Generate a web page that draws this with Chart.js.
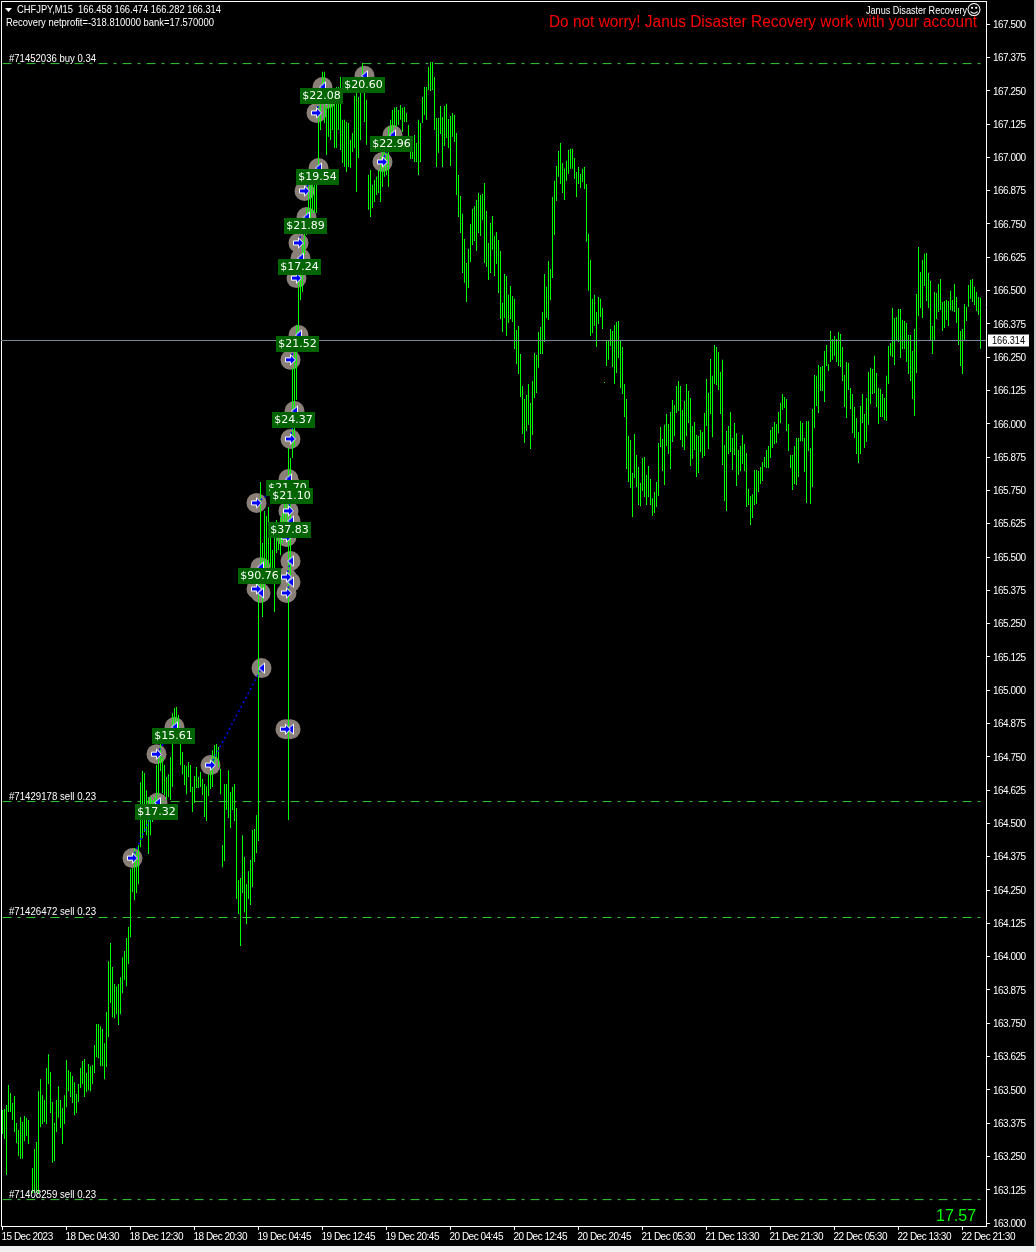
<!DOCTYPE html>
<html>
<head>
<meta charset="utf-8">
<title>CHFJPY,M15</title>
<script src="https://cdn.jsdelivr.net/npm/chart.js@4"></script>
<style>
  html, body { margin: 0; padding: 0; background: #000; overflow: hidden; }
  canvas { display: block; }
</style>
</head>
<body>
<canvas id="priceChart" width="1036" height="1252"></canvas>
<script>
// M15 bar highs, ten bars per row (null = bar too small to see)
const barHighs = [
  163.424,163.428,163.443,163.518,163.488,163.451,163.477,163.376,163.349,163.398,
  163.379,163.402,163.395,163.387,null,163.207,163.278,163.304,163.495,163.540,
  163.480,163.462,163.582,163.634,163.567,163.454,163.376,163.462,163.514,163.462,
  163.432,163.480,163.612,163.574,163.567,163.552,163.529,163.484,163.522,163.582,
  163.608,163.616,163.563,163.597,163.589,163.593,163.668,163.747,163.747,163.739,
  163.728,163.675,163.792,163.983,164.051,163.961,163.897,163.889,163.897,163.923,
  163.998,164.021,164.070,164.111,164.329,164.333,164.408,164.393,164.419,164.655,
  164.697,164.689,164.625,164.599,164.599,164.588,164.599,164.719,164.745,164.802,
  164.749,164.719,164.674,164.685,164.749,164.914,164.933,164.937,164.907,164.802,
  164.768,164.719,164.715,164.730,164.719,164.637,164.678,164.712,164.674,164.693,
  164.667,164.648,164.640,164.685,164.742,164.775,164.794,164.798,164.787,164.704,
  164.419,164.648,164.648,164.700,164.618,164.637,164.648,164.558,164.287,164.295,
  164.456,164.374,164.272,164.321,164.363,164.475,164.479,164.531,165.440,165.782,
  165.553,165.673,165.654,165.688,165.575,165.526,165.613,165.639,165.628,165.650,
  165.665,165.714,165.778,165.909,165.872,166.210,166.277,166.371,166.607,166.634,
  166.690,166.720,166.810,166.896,166.896,166.896,166.896,166.896,167.197,167.253,
  167.321,167.321,167.189,167.204,167.216,167.216,167.204,167.264,167.264,167.302,
  167.141,167.141,167.133,167.129,167.065,167.092,167.231,167.253,167.227,167.253,
  167.354,167.253,167.216,166.934,166.953,166.896,166.915,166.927,166.953,167.002,
  167.028,167.028,167.017,167.114,167.141,167.178,167.186,167.189,167.178,167.197,
  167.186,167.189,167.167,167.122,167.028,167.028,167.084,167.054,167.141,167.129,
  167.227,167.264,167.264,167.339,167.358,167.358,167.302,167.148,167.148,167.193,
  167.152,167.193,167.201,167.144,167.155,167.167,167.159,167.092,166.934,166.855,
  166.788,166.694,166.604,166.656,166.750,166.806,166.818,166.840,166.866,166.859,
  166.863,166.904,166.799,166.679,166.754,166.780,166.705,166.720,166.690,166.649,
  166.454,166.562,166.555,166.484,166.517,166.480,166.469,166.352,166.367,166.262,
  166.142,166.093,166.108,166.149,166.078,166.161,166.266,166.258,166.345,166.363,
  166.420,166.562,166.514,166.611,166.581,166.851,166.912,166.968,167.024,167.054,
  166.979,166.957,166.987,167.028,167.032,167.032,166.998,166.945,166.964,166.938,
  166.957,166.964,166.900,166.713,166.615,166.469,166.484,166.420,166.476,166.469,
  166.435,166.157,166.311,166.315,166.356,166.348,166.371,166.382,166.386,166.315,
  166.288,166.149,166.093,165.954,165.939,165.815,165.962,165.883,165.838,165.778,
  165.872,165.875,165.808,165.842,165.793,165.721,165.744,165.782,165.928,165.988,
  165.943,165.996,166.037,165.999,166.044,166.089,166.071,166.142,166.161,166.142,
  166.052,166.086,166.149,166.123,166.097,165.992,166.007,165.958,165.954,165.977,
  165.969,166.041,166.168,166.116,166.243,166.180,166.296,166.288,166.270,166.194,
  166.240,165.920,165.973,165.992,166.044,165.947,166.003,165.965,165.902,165.917,
  165.958,165.924,165.890,165.755,165.729,165.736,165.827,165.827,165.823,165.838,
  165.857,165.875,165.902,165.917,165.977,165.988,166.007,165.999,166.044,166.078,
  166.112,166.101,166.093,165.999,165.883,165.883,165.917,165.947,165.947,166.011,
  166.003,165.947,166.011,166.011,165.909,166.056,166.183,166.180,166.221,166.213,
  166.217,166.273,166.296,166.224,166.348,166.318,166.330,166.318,166.345,166.337,
  166.288,166.183,166.232,166.228,166.134,166.112,166.063,166.022,165.969,166.067,
  166.112,166.037,166.097,166.194,166.210,166.206,166.255,166.191,166.134,166.131,
  166.112,166.097,166.180,166.292,166.303,166.435,166.397,166.401,166.431,166.431,
  166.390,166.386,166.378,166.333,166.333,166.273,166.356,166.487,166.664,166.570,
  166.615,166.638,166.641,166.566,166.536,166.367,166.495,166.491,166.525,166.544,
  166.457,166.461,166.465,166.461,166.499,166.465,166.525,166.476,166.435,166.348,
  166.356,166.450,166.439,166.521,166.540,166.544,166.514,166.495,166.476,166.474
];

const barLows = [
  163.334,163.316,163.180,163.417,163.417,163.387,163.342,163.301,163.252,163.241,
  163.241,163.308,163.327,163.297,null,163.113,163.113,163.113,163.113,163.360,
  163.372,163.379,163.372,163.522,163.413,163.226,163.233,163.342,163.395,163.357,
  163.297,163.372,163.435,163.495,163.473,163.451,163.405,163.413,163.454,163.507,
  163.522,163.473,163.492,163.499,163.495,163.522,163.563,163.623,163.619,163.589,
  163.589,163.540,163.586,163.698,163.826,163.773,163.769,163.784,163.743,163.784,
  163.863,163.912,163.889,163.972,164.073,164.242,164.212,164.239,164.272,164.411,
  164.445,164.468,164.456,164.385,164.456,164.505,164.531,164.577,164.607,164.697,
  164.614,164.607,164.588,164.599,164.588,164.637,164.832,164.851,164.802,164.719,
  164.685,164.644,164.610,164.674,164.618,164.543,164.577,164.633,164.633,164.637,
  164.607,164.524,164.509,164.603,164.629,164.637,164.719,164.738,164.712,164.610,
  164.336,164.359,164.550,164.520,164.483,164.550,164.509,164.216,164.160,164.040,
  164.239,164.167,164.122,164.216,164.194,164.261,164.355,164.389,164.434,165.376,
  165.275,165.376,165.462,165.462,165.462,165.451,165.294,165.515,165.526,165.507,
  165.553,165.564,165.575,164.513,165.414,165.872,165.913,166.089,166.315,166.465,
  166.495,166.634,166.709,166.746,166.720,166.791,166.791,166.791,166.960,167.103,
  167.204,167.129,167.009,167.077,167.065,167.103,167.035,167.035,167.103,167.028,
  166.979,166.964,166.945,166.964,166.960,167.020,167.035,166.870,166.998,167.065,
  167.253,167.133,167.047,166.803,166.776,166.810,166.833,166.859,166.866,166.833,
  166.889,166.927,166.934,166.889,167.077,167.092,167.114,167.114,167.122,167.141,
  167.095,167.133,167.133,167.035,166.994,166.994,166.983,166.983,166.934,166.983,
  167.129,167.159,167.141,167.253,167.249,167.253,167.103,166.964,167.017,167.088,
  166.964,167.043,167.073,167.035,166.968,167.077,167.058,166.859,166.776,166.716,
  166.566,166.529,166.457,166.510,166.607,166.671,166.686,166.649,166.716,166.705,
  166.765,166.604,166.589,166.540,166.566,166.653,166.555,166.600,166.491,166.393,
  166.345,166.397,166.330,166.378,166.393,166.382,166.281,166.224,166.187,166.101,
  165.962,165.928,165.973,165.996,165.905,165.958,166.097,166.116,166.210,166.262,
  166.262,166.307,166.397,166.390,166.465,166.547,166.709,166.836,166.927,166.900,
  166.866,166.840,166.912,166.938,166.957,166.957,166.919,166.851,166.900,166.885,
  166.908,166.881,166.683,166.499,166.330,166.341,166.367,166.288,166.375,166.401,
  166.356,166.153,166.217,166.240,166.292,166.213,166.149,166.191,166.247,166.134,
  166.112,166.026,165.830,165.782,165.759,165.650,165.797,165.763,165.695,165.691,
  165.748,165.725,165.695,165.725,165.695,165.654,165.665,165.688,165.729,165.913,
  165.823,165.770,165.917,165.887,165.830,165.932,165.954,166.041,166.048,165.939,
  165.913,165.902,165.954,166.003,165.842,165.868,165.902,165.800,165.815,165.894,
  165.872,165.879,165.992,165.905,166.037,165.950,166.149,166.146,166.127,166.037,
  165.845,165.710,165.673,165.887,165.894,165.827,165.883,165.767,165.808,165.823,
  165.849,165.823,165.688,165.695,165.620,165.646,165.695,165.699,165.744,165.774,
  165.785,165.838,165.834,165.834,165.872,165.909,165.924,165.928,165.965,166.003,
  166.052,166.059,165.973,165.898,165.834,165.752,165.774,165.770,165.800,165.935,
  165.935,165.819,165.703,165.898,165.699,165.763,165.984,166.067,166.041,166.123,
  166.123,166.082,166.217,166.198,166.232,166.240,166.255,166.232,166.217,166.213,
  166.161,166.063,166.022,166.127,166.056,165.965,165.947,165.887,165.853,165.887,
  166.003,165.909,165.932,165.996,166.074,166.112,166.116,166.063,165.999,166.026,
  166.026,166.014,166.011,166.149,166.255,166.251,166.221,166.311,166.307,166.247,
  166.281,166.281,166.232,166.187,166.161,166.093,166.029,166.191,166.405,166.435,
  166.397,166.517,166.461,166.435,166.311,166.262,166.311,166.393,166.420,166.427,
  166.348,166.360,166.390,166.367,166.427,166.423,166.420,166.378,166.296,166.217,
  166.187,166.311,166.386,166.439,166.469,166.457,166.446,166.423,166.408,166.282
];

// axes
const priceTicks = [167.5,167.375,167.25,167.125,167,166.875,166.75,166.625,166.5,166.375,166.25,166.125,166,165.875,165.75,165.625,165.5,165.375,165.25,165.125,165,164.875,164.75,164.625,164.5,164.375,164.25,164.125,164,163.875,163.75,163.625,163.5,163.375,163.25,163.125,163];
const timeLabels = ["15 Dec 2023","18 Dec 04:30","18 Dec 12:30","18 Dec 20:30","19 Dec 04:45","19 Dec 12:45","19 Dec 20:45","20 Dec 04:45","20 Dec 12:45","20 Dec 20:45","21 Dec 05:30","21 Dec 13:30","21 Dec 21:30","22 Dec 05:30","22 Dec 13:30","22 Dec 21:30"];
const barsPerTimeLabel = 32;

// open order lines
const orderPrices = [167.352, 164.582, 164.147, 163.088];
const orderTexts = ["#71452036 buy 0.34","#71429178 sell 0.23","#71426472 sell 0.23","#71408259 sell 0.23"];

// closed trades: entry bar/price, exit bar/price, profit label
const entryBars = [65,77,104,127,127,127,142,142,141.5,142,143,144,144,147,148,151,157,162,190];
const entryPrices = [164.370,164.760,164.719,165.414,165.380,165.703,165.365,165.425,164.854,165.575,165.673,165.943,166.240,166.547,166.679,166.874,167.167,167.219,166.983];
const exitBars = [77.5,86,129.5,129,129,143,144,144,144,144,145,146,148,149,152,158,160,181,195];
const exitPrices = [164.578,164.862,165.083,165.462,165.365,165.793,165.406,165.485,164.854,165.635,165.763,166.048,166.333,166.622,166.776,166.960,167.264,167.306,167.084];
const profitTexts = ["$17.32","$15.61","","$90.76","","$21.70","","","","$37.83","$21.10","$24.37","$21.52","$17.24","$21.89","$19.54","$22.08","$20.60","$22.96"];

const lastPrice = 166.314;
const headerText = "CHFJPY,M15  166.458 166.474 166.282 166.314";
const recoveryText = "Recovery netprofit=-318.810000 bank=17.570000";
const eaName = "Janus Disaster Recovery";
const bannerText = "Do not worry! Janus Disaster Recovery work with your account";
const bankText = "17.57";

const smallFont = '11px "Liberation Sans", sans-serif';

function arrowCanvas(points) {
  const c = document.createElement("canvas");
  c.width = 13;
  c.height = 13;
  const g = c.getContext("2d");
  g.translate(6.5, 6.5);
  g.beginPath();
  points.forEach((p, i) => (i ? g.lineTo(p[0], p[1]) : g.moveTo(p[0], p[1])));
  g.closePath();
  g.fillStyle = "#0000ff";
  g.fill();
  g.strokeStyle = "#ffffff";
  g.lineWidth = 1;
  g.stroke();
  return c;
}
const entryArrow = arrowCanvas([[-5,-2],[0,-2],[0,-5],[5,0],[0,5],[0,2],[-5,2]]);
const exitArrow = arrowCanvas([[3,-5],[3,5],[-3,0]]);

const chartDecor = {
  id: "chartDecor",
  beforeDraw(chart) {
    const g = chart.ctx;
    const a = chart.chartArea;
    g.save();
    g.fillStyle = "#000";
    g.fillRect(0, 0, 1036, 1252);
    g.fillStyle = "#fff";
    g.fillRect(a.left, a.top, a.right - a.left, 1);
    g.fillRect(a.left, a.top, 1, a.bottom - a.top);
    g.fillStyle = "#c4c4c4";
    g.fillRect(1034, 0, 2, 1252);
    g.fillStyle = "#f0f0f0";
    g.fillRect(0, 1246, 1036, 6);
    g.restore();
    // tick labels are tighter than the installed fonts
    g.letterSpacing = "-0.5px";
  },
  afterDatasetsDraw(chart) {
    const g = chart.ctx;
    const a = chart.chartArea;
    const xs = chart.scales.x;
    const ys = chart.scales.y;
    g.save();
    g.letterSpacing = "0px";

    // current price line and box
    const py = Math.floor(ys.getPixelForValue(lastPrice)) + 0.5;
    g.strokeStyle = "#778899";
    g.lineWidth = 1;
    g.beginPath();
    g.moveTo(a.left, py);
    g.lineTo(a.right, py);
    g.stroke();

    // profit labels
    g.textAlign = "center";
    g.textBaseline = "middle";
    g.font = '11px "DejaVu Sans", sans-serif';
    profitTexts.forEach((t, i) => {
      if (!t) return;
      const cx = Math.round(xs.getPixelForValue(exitBars[i])) - 2;
      const cy = Math.round(ys.getPixelForValue(exitPrices[i])) + 9;
      g.fillStyle = "#006400";
      g.fillRect(cx - 21, cy - 8, 43, 16);
      g.fillStyle = "#ffffff";
      g.fillText(t, cx + 0.5, cy);
    });

    // order labels
    g.textAlign = "left";
    g.font = smallFont;
    g.fillStyle = "#ffffff";
    orderPrices.forEach((p, i) => {
      g.fillText(orderTexts[i], 9, Math.round(ys.getPixelForValue(p)) - 5, 87);
    });

    // header texts
    g.fillText(headerText, 17, 10, 204);
    g.fillText(recoveryText, 6, 23, 208);
    g.fillText(eaName, 866, 11, 101);
    g.textAlign = "right";
    g.font = '15px "DejaVu Sans", sans-serif';
    g.fillText("\u263A", 982, 11);
    g.font = '16px "Liberation Sans", sans-serif';
    g.fillStyle = "#ff0000";
    g.textAlign = "left";
    g.fillText(bannerText, 549, 23, 428);
    g.fillStyle = "#00ff00";
    g.fillText(bankText, 936, 1217);

    // menu triangle
    g.fillStyle = "#ffffff";
    g.beginPath();
    g.moveTo(5, 8);
    g.lineTo(12, 8);
    g.lineTo(8.5, 12);
    g.closePath();
    g.fill();

    // last price tag on the axis
    g.fillStyle = "#ffffff";
    g.fillRect(988, py - 6, 41, 12);
    g.fillStyle = "#000000";
    g.font = smallFont;
    g.fillText(lastPrice.toFixed(3), 992, py, 33);
    g.restore();
  },
};

const barPoints = barHighs
  .map((h, i) => (h === null ? null : { x: i, y: [barLows[i], h] }))
  .filter(Boolean);
const entryPoints = entryBars.map((b, i) => ({ x: b, y: entryPrices[i] }));
const exitPoints = exitBars.map((b, i) => ({ x: b, y: exitPrices[i] }));

const datasets = [
  {
    type: "line",
    order: 5,
    data: entryPoints.concat(exitPoints),
    showLine: false,
    pointRadius: 10,
    pointBorderWidth: 0,
    pointBackgroundColor: "#8a8078",
  },
  ...orderPrices.map((p) => ({
    type: "line",
    order: 4,
    data: [{ x: 0, y: p }, { x: barHighs.length - 1, y: p }],
    borderColor: "#32cd32",
    borderWidth: 1,
    borderDash: [9, 6, 3, 6],
    pointRadius: 0,
  })),
  {
    type: "bar",
    order: 3,
    data: barPoints,
    backgroundColor: "#00ff00",
    barThickness: 1,
    borderWidth: 0,
    inflateAmount: 0,
    grouped: false,
  },
  ...entryPoints.map((p, i) => ({
    type: "line",
    order: 2,
    data: [p, exitPoints[i]],
    borderColor: "#0000ff",
    borderWidth: 1.5,
    borderDash: [2, 3],
    pointRadius: 0,
  })),
  {
    type: "line",
    order: 1,
    data: entryPoints,
    showLine: false,
    pointStyle: entryArrow,
  },
  {
    type: "line",
    order: 1,
    data: exitPoints,
    showLine: false,
    pointStyle: exitArrow,
  },
];

const tickFont = { family: '"Liberation Sans", sans-serif', size: 10 };

new Chart(document.getElementById("priceChart"), {
  type: "bar",
  data: { datasets },
  plugins: [chartDecor],
  options: {
    responsive: false,
    animation: false,
    devicePixelRatio: 1,
    layout: { autoPadding: false, padding: { left: 1, top: 1, right: 0, bottom: 0 } },
    plugins: { legend: { display: false }, tooltip: { enabled: false } },
    scales: {
      x: {
        type: "linear",
        min: -0.75,
        max: 491.75,
        offset: false,
        afterBuildTicks(scale) {
          scale.ticks = timeLabels.map((_, i) => ({ value: i * barsPerTimeLabel }));
        },
        afterFit(scale) {
          scale.height = 26;
          scale.paddingLeft = 0;
          scale.paddingRight = 0;
        },
        grid: { drawOnChartArea: false, offset: false, color: "#fff", tickLength: 4 },
        border: { color: "#fff" },
        ticks: {
          autoSkip: false,
          maxRotation: 0,
          align: "start",
          labelOffset: -1,
          padding: 1,
          color: "#fff",
          font: tickFont,
          callback: (value, index) => timeLabels[index],
        },
      },
      y: {
        position: "right",
        min: 162.989,
        max: 167.587,
        afterBuildTicks(scale) {
          scale.ticks = priceTicks.map((value) => ({ value }));
        },
        afterFit(scale) {
          scale.width = 50;
          scale.paddingTop = 0;
          scale.paddingBottom = 0;
        },
        grid: { drawOnChartArea: false, color: "#fff", tickLength: 4 },
        border: { color: "#fff" },
        ticks: {
          autoSkip: false,
          padding: 3,
          labelOffset: 1,
          color: "#fff",
          font: tickFont,
          callback: (value) => value.toFixed(3),
        },
      },
    },
  },
});
</script>
</body>
</html>
